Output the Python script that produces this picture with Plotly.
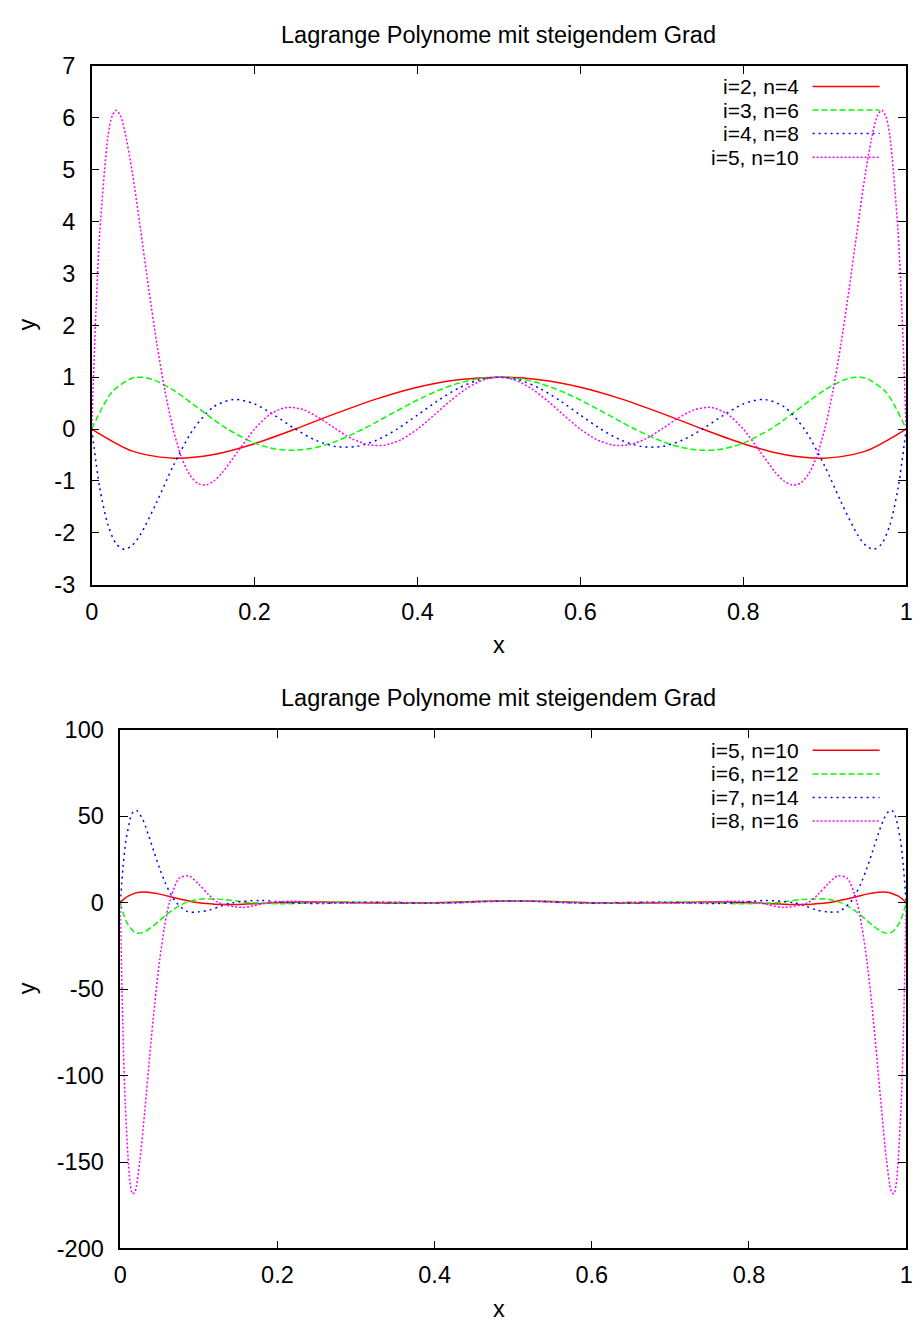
import plotly.graph_objects as go

# ---------------- data ----------------
TITLE = "Lagrange Polynome mit steigendem Grad"

X_TICKS = [0, 0.2, 0.4, 0.6, 0.8, 1]
X_TICK_TEXT = ["0", "0.2", "0.4", "0.6", "0.8", "1"]
Y1_TICKS = [-3, -2, -1, 0, 1, 2, 3, 4, 5, 6, 7]
Y1_TICK_TEXT = ["-3", "-2", "-1", "0", "1", "2", "3", "4", "5", "6", "7"]
Y2_TICKS = [-200, -150, -100, -50, 0, 50, 100]
Y2_TICK_TEXT = ["-200", "-150", "-100", "-50", "0", "50", "100"]

LABELS_TOP = ["i=2, n=4", "i=3, n=6", "i=4, n=8", "i=5, n=10"]
LABELS_BOTTOM = ["i=5, n=10", "i=6, n=12", "i=7, n=14", "i=8, n=16"]

# i=2, n=4
X_N4 = [0, .05, .1, .15, .2, .25, .3, .35, .4, .45, .5,
        .55, .6, .65, .7, .75, .8, .85, .9, .95, 1]
Y_N4 = [0, -.426, -.562, -.490, -.282, 0, .302, .582, .806, .950, 1,
        .950, .806, .582, .302, 0, -.282, -.490, -.562, -.426, 0]

# i=3, n=6
X_N6 = [0, .025, .05, .0625, .075, .1, .125, .15, .1667, .2, .225, .25, .275, .3, .3333,
        .35, .375, .4, .425, .45, .475, .5,
        .525, .55, .575, .6, .625, .65, .6667, .7, .725, .75, .775, .8, .8333,
        .85, .875, .9, .925, .9375, .95, .975, 1]
Y_N6 = [0, .716, .983, .998, .955, .754, .472, .178, 0, -.272, -.384, -.410, -.357, -.237, 0,
        .138, .353, .559, .740, .881, .970, 1,
        .970, .881, .740, .559, .353, .138, 0, -.237, -.357, -.410, -.384, -.272, 0,
        .178, .472, .754, .955, .998, .983, .716, 0]

# i=4, n=8
X_N8 = [0, .01, .02, .03, .04, .05, .06, .08, .1, .125, .15, .175, .2, .225, .25,
        .275, .3, .325, .35, .375, .4, .425, .45, .475, .5,
        .525, .55, .575, .6, .625, .65, .675, .7, .725, .75, .775, .8, .825, .85,
        .875, .9, .92, .94, .95, .96, .97, .98, .99, 1]
Y_N8 = [0, -1.144, -1.848, -2.212, -2.320, -2.240, -2.031, -1.404, -.715, 0, .432, .571, .483, .260, 0,
        -.217, -.338, -.336, -.215, 0, .270, .547, .784, .944, 1,
        .944, .784, .547, .270, 0, -.215, -.336, -.338, -.217, 0, .260, .483, .571, .432,
        0, -.715, -1.404, -2.031, -2.240, -2.320, -2.212, -1.848, -1.144, 0]

# i=5, n=10
X_N10 = [0, .005, .01, .02, .025, .03, .035, .04, .05, .06, .07, .08, .09, .1, .11, .12, .13,
         .14, .15, .16, .18, .2, .22, .24, .26, .28, .3, .32, .34, .36, .38, .4, .42, .44,
         .46, .48, .5,
         .52, .54, .56, .58, .6, .62, .64, .66, .68, .7, .72, .74, .76, .78, .8, .82, .84,
         .85, .86, .87, .88, .89, .9, .91, .92, .93, .94, .95, .96, .965, .97, .975, .98,
         .99, .995, 1]
Y_N10 = [0, 2.194, 3.806, 5.646, 6.030, 6.146, 6.049, 5.788, 4.933, 3.845, 2.707, 1.644, .729,
         0, -.531, -.873, -1.046, -1.079, -1.002, -.847, -.422, 0, .296, .417, .371, .210, 0,
         -.189, -.303, -.310, -.203, 0, .263, .539, .779, .942, 1,
         .942, .779, .539, .263, 0, -.203, -.310, -.303, -.189, 0, .210, .371, .417, .296, 0,
         -.422, -.847, -1.002, -1.079, -1.046, -.873, -.531, 0, .729, 1.644, 2.707, 3.845,
         4.933, 5.788, 6.049, 6.146, 6.030, 5.646, 3.806, 2.194, 0]

# i=6, n=12
X_N12 = [0, .00417, .00833, .01667, .02083, .025, .02917, .03333, .04167, .05, .05833, .06667,
         .075, .08333, .1, .11667, .13333, .15, .16667, .20833, .25, .29167, .33333, .375,
         .41667, .45833, .5,
         .54167, .58333, .625, .66667, .70833, .75, .79167, .83333, .85, .86667, .88333, .9,
         .91667, .925, .93333, .94167, .95, .95833, .96667, .97083, .975, .97917, .98333,
         .99167, .99583, 1]
Y_N12 = [0, -6.64, -11.39, -16.54, -17.48, -17.62, -17.16, -16.24, -13.54, -10.32, -7.10, -4.21,
         -1.82, 0, 2.03, 2.13, 1.78, .84, 0, -.66, 0, .34, 0, -.30, 0, .66, 1,
         .66, 0, -.30, 0, .34, 0, -.66, 0, .84, 1.78, 2.13, 2.03,
         0, -1.82, -4.21, -7.10, -10.32, -13.54, -16.24, -17.16, -17.62, -17.48, -16.54,
         -11.39, -6.64, 0]

# i=7, n=14
X_N14 = [0, .00357, .00714, .01429, .01786, .02143, .02857, .03571, .04286, .05, .05714,
         .06429, .07143, .08571, .1, .11429, .12857, .14286, .17857, .21429, .25, .28571,
         .32143, .35714, .39286, .42857, .46429, .5,
         .53571, .57143, .60714, .64286, .67857, .71429, .75, .78571, .82143, .85714, .87143,
         .88571, .9, .91429, .92857, .93571, .94286, .95, .95714, .96429, .97143, .97857,
         .98214, .98571, .99286, .99643, 1]
Y_N14 = [0, 20.94, 35.63, 50.86, 53.27, 53.24, 48.19, 39.45, 29.53, 19.95, 11.61,
         4.93, 0, -5.18, -5.30, -4.18, -1.89, 0, 1.27, 0, -.50, 0,
         .30, 0, -.29, 0, .66, 1,
         .66, 0, -.29, 0, .30, 0, -.50, 0, 1.27, 0, -1.89,
         -4.18, -5.30, -5.18, 0, 4.93, 11.61, 19.95, 29.53, 39.45, 48.19, 53.24,
         53.27, 50.86, 35.63, 20.94, 0]

# i=8, n=16
X_N16 = [0, .003125, .00625, .0125, .015625, .01875, .025, .03125, .0375, .04375, .05, .05625,
         .0625, .075, .0875, .1, .1125, .125, .15625, .1875, .21875, .25, .28125, .3125,
         .34375, .375, .40625, .4375, .46875, .5,
         .53125, .5625, .59375, .625, .65625, .6875, .71875, .75, .78125, .8125, .84375,
         .875, .8875, .9, .9125, .925, .9375, .94375, .95, .95625, .9625, .96875, .975,
         .98125, .984375, .9875, .99375, .996875, 1]
Y_N16 = [0, -68.2, -115.2, -162.0, -168.4, -167.1, -148.9, -120.1, -88.5, -58.8, -33.7, -14.1,
         0, 14.1, 15.4, 10.6, 4.6, 0, -2.73, 0, .87, 0, -.40, 0,
         .27, 0, -.28, 0, .66, 1,
         .66, 0, -.28, 0, .27, 0, -.40, 0, .87, 0, -2.73,
         0, 4.6, 10.6, 15.4, 14.1, 0, -14.1, -33.7, -58.8, -88.5, -120.1, -148.9,
         -167.1, -168.4, -162.0, -115.2, -68.2, 0]

# ---------------- styling ----------------
W, H = 924, 1335
FONT = "Liberation Sans, Arial, sans-serif"
FS = 23.5          # titles, tick labels, axis labels
FS_KEY = 21        # key entries (rows are only 24 px apart)
STYLES = [
    dict(color="#ff0000", dash="solid"),
    dict(color="#00ff00", dash="6px,3px"),
    dict(color="#0000ff", dash="2px,4px"),
    dict(color="#ff00ff", dash="2px,2px"),
]
LW = 1.5


def fx(p):
    return p / W


def fy(p):
    return 1 - p / H


fig = go.Figure()

top_series = [(X_N4, Y_N4), (X_N6, Y_N6), (X_N8, Y_N8), (X_N10, Y_N10)]
bot_series = [(X_N10, Y_N10), (X_N12, Y_N12), (X_N14, Y_N14), (X_N16, Y_N16)]

for (xs, ys), lab, st in zip(top_series, LABELS_TOP, STYLES):
    fig.add_trace(go.Scatter(x=xs, y=ys, mode="lines", name=lab, showlegend=False,
                             line=dict(color=st["color"], dash=st["dash"], width=LW,
                                       shape="spline", smoothing=0.8),
                             xaxis="x", yaxis="y"))
for (xs, ys), lab, st in zip(bot_series, LABELS_BOTTOM, STYLES):
    fig.add_trace(go.Scatter(x=xs, y=ys, mode="lines", name=lab, showlegend=False,
                             line=dict(color=st["color"], dash=st["dash"], width=LW,
                                       shape="spline", smoothing=0.8),
                             xaxis="x2", yaxis="y2"))

axis_common = dict(showline=True, linecolor="black", linewidth=1.5, mirror="ticks",
                   ticks="inside", ticklen=8, tickwidth=1, tickcolor="black",
                   showgrid=False, zeroline=False,
                   tickfont=dict(family=FONT, size=FS, color="black"))

TOP = (54, 583)
BOT = (731, 1260)

fig.update_layout(
    width=W, height=H,
    margin=dict(l=0, r=0, t=0, b=0),
    paper_bgcolor="white", plot_bgcolor="white",
    showlegend=False,
    xaxis=dict(domain=[fx(86), fx(913)], range=[0, 1], anchor="y",
               tickvals=X_TICKS, ticktext=X_TICK_TEXT, ticklabelstandoff=5, **axis_common),
    yaxis=dict(domain=[fy(TOP[1]), fy(TOP[0])], range=[-3, 7], anchor="x",
               tickvals=Y1_TICKS, ticktext=Y1_TICK_TEXT, ticklabelstandoff=10, **axis_common),
    xaxis2=dict(domain=[fx(115), fx(913)], range=[0, 1], anchor="y2",
                tickvals=X_TICKS, ticktext=X_TICK_TEXT, ticklabelstandoff=5, **axis_common),
    yaxis2=dict(domain=[fy(BOT[1]), fy(BOT[0])], range=[-200, 100], anchor="x2",
                tickvals=Y2_TICKS, ticktext=Y2_TICK_TEXT, ticklabelstandoff=10, **axis_common),
)

annotations = []
shapes = []
txtfont = dict(family=FONT, size=FS, color="black")
keyfont = dict(family=FONT, size=FS_KEY, color="black")
for off in (0, 677):
    # plot title
    annotations.append(dict(text=TITLE, x=fx(499.5), y=fy(22 + off), xref="paper", yref="paper",
                            xanchor="center", yanchor="middle", showarrow=False, font=txtfont))
    # axis labels
    annotations.append(dict(text="x", x=fx(499.5), y=fy(645 + off), xref="paper", yref="paper",
                            xanchor="center", yanchor="middle", showarrow=False, font=txtfont))
    annotations.append(dict(text="y", x=fx(20), y=fy(318 + off), xref="paper", yref="paper",
                            xanchor="center", yanchor="middle", showarrow=False, font=txtfont,
                            textangle=-90))

for k, labels in enumerate((LABELS_TOP, LABELS_BOTTOM)):
    base = 75 + 677 * k
    for r, (lab, st) in enumerate(zip(labels, STYLES)):
        yy = base + 24 * r
        annotations.append(dict(text=lab, x=fx(805), y=fy(yy), xref="paper", yref="paper",
                                xanchor="right", yanchor="middle", showarrow=False, font=keyfont,
                                borderpad=0))
        shapes.append(dict(type="line", xref="paper", yref="paper",
                           x0=fx(818), x1=fx(886), y0=fy(yy), y1=fy(yy),
                           line=dict(color=st["color"], dash=st["dash"], width=LW)))

fig.update_layout(annotations=annotations, shapes=shapes)

fig.write_html("out.html")
